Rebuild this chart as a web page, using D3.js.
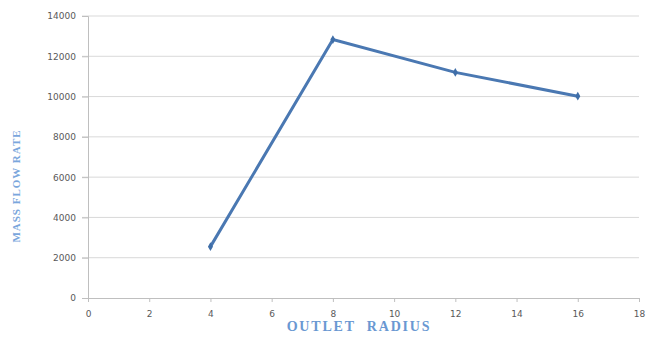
<!DOCTYPE html>
<html><head><meta charset="utf-8">
<script src="https://cdn.jsdelivr.net/npm/d3@7"></script>
<style>body{margin:0;background:#fff}svg{display:block}</style>
</head><body>
<script>
const radius = [4, 8, 12, 16];
const massFlow = [2550, 12830, 11200, 10020];
const xTicks = [0, 2, 4, 6, 8, 10, 12, 14, 16, 18];
const yTicks = [0, 2000, 4000, 6000, 8000, 10000, 12000, 14000];
const xTitle = "OUTLET RADIUS";
const yTitle = "MASS FLOW RATE";

const W = 646, H = 337;
const svg = d3.select("body").append("svg").attr("width", W).attr("height", H);
const x = d3.scaleLinear().domain([0, 18]).range([88, 639]);
const y = d3.scaleLinear().domain([0, 14000]).range([298, 16]);

// gridlines
svg.append("g").selectAll("line").data(yTicks.filter(d => d > 0)).join("line")
  .attr("x1", 82).attr("x2", 639).attr("y1", d => y(d)).attr("y2", d => y(d))
  .attr("stroke", "#d9d9d9").attr("stroke-width", 1);

// axes
const gx = svg.append("g").attr("transform", `translate(0,${y(0)})`)
  .call(d3.axisBottom(x).tickValues(xTicks).tickFormat(d3.format("d")).tickSize(4).tickPadding(9));
const gy = svg.append("g").attr("transform", `translate(${x(0)},0)`)
  .call(d3.axisLeft(y).tickValues(yTicks).tickFormat(d3.format("d")).tickSize(6).tickPadding(6));
[gx, gy].forEach(g => {
  g.select(".domain").attr("stroke", "#bfbfbf");
  g.selectAll(".tick line").attr("stroke", "#bfbfbf");
  g.selectAll("text").attr("fill", "#595959").style("font-family", "DejaVu Sans, sans-serif").style("font-size", "9px");
});

// line
const line = d3.line().x((d, i) => x(radius[i])).y(d => y(d));
svg.append("path").datum(massFlow).attr("d", line)
  .attr("fill", "none").attr("stroke", "#4a78b2").attr("stroke-width", 3).attr("stroke-linejoin", "miter");
svg.append("g").selectAll("path").data(massFlow).join("path")
  .attr("d", d3.symbol(d3.symbolDiamond, 22))
  .attr("transform", (d, i) => `translate(${x(radius[i])},${y(d)})`)
  .attr("fill", "#3f6ea8");

// titles
svg.append("text").attr("x", 359).attr("y", 331).attr("text-anchor", "middle")
  .style("font-family", "Liberation Serif, serif").style("font-weight", "bold").style("font-size", "14px")
  .attr("fill", "#6a98d2").attr("letter-spacing", "1.8").attr("word-spacing", "6").text(xTitle);
svg.append("text").attr("transform", `translate(20,186) rotate(-90)`).attr("text-anchor", "middle")
  .style("font-family", "Liberation Serif, serif").style("font-weight", "bold").style("font-size", "11px")
  .attr("fill", "#7aa6dc").attr("letter-spacing", "1").text(yTitle);
</script>
</body></html>
